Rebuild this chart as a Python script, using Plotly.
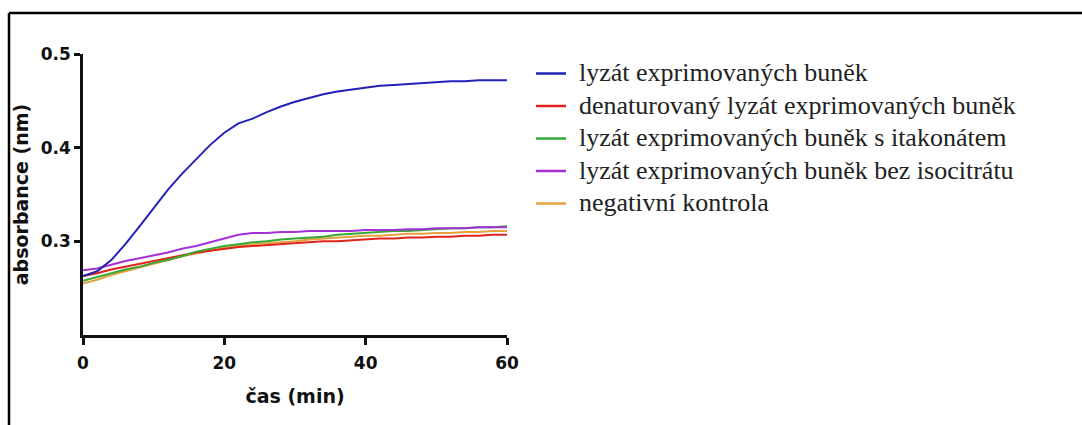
import plotly.graph_objects as go

# time points (min)
time_min = [0, 2, 4, 6, 8, 10, 12, 14, 16, 18, 20, 22, 24, 26, 28, 30,
            32, 34, 36, 38, 40, 42, 44, 46, 48, 50, 52, 54, 56, 58, 60]

lyzat = [0.263, 0.268, 0.280, 0.297, 0.316, 0.336, 0.355, 0.372, 0.388, 0.403,
         0.416, 0.426, 0.431, 0.438, 0.444, 0.449, 0.453, 0.457, 0.460, 0.462,
         0.464, 0.466, 0.467, 0.468, 0.469, 0.470, 0.471, 0.471, 0.472, 0.472, 0.472]
denaturovany = [0.263, 0.266, 0.270, 0.273, 0.276, 0.279, 0.282, 0.285, 0.288, 0.290,
                0.292, 0.294, 0.295, 0.296, 0.297, 0.298, 0.299, 0.300, 0.300, 0.301,
                0.302, 0.303, 0.303, 0.304, 0.304, 0.305, 0.305, 0.306, 0.306, 0.307, 0.307]
itakonat = [0.258, 0.262, 0.266, 0.270, 0.273, 0.277, 0.280, 0.284, 0.289, 0.292,
            0.295, 0.297, 0.299, 0.300, 0.302, 0.303, 0.304, 0.305, 0.307, 0.308,
            0.309, 0.310, 0.311, 0.311, 0.312, 0.313, 0.314, 0.314, 0.315, 0.315, 0.316]
bez_isocitratu = [0.269, 0.271, 0.275, 0.279, 0.282, 0.285, 0.288, 0.292, 0.295, 0.299,
                  0.303, 0.307, 0.309, 0.309, 0.310, 0.310, 0.311, 0.311, 0.311, 0.311,
                  0.312, 0.312, 0.312, 0.313, 0.313, 0.314, 0.314, 0.314, 0.315, 0.315, 0.315]
negativni = [0.255, 0.259, 0.264, 0.268, 0.272, 0.276, 0.280, 0.284, 0.287, 0.290,
             0.293, 0.295, 0.297, 0.298, 0.299, 0.300, 0.302, 0.303, 0.304, 0.305,
             0.306, 0.306, 0.307, 0.308, 0.308, 0.309, 0.309, 0.310, 0.310, 0.311, 0.311]

x_ticks = [0, 20, 40, 60]
y_ticks = [0.3, 0.4, 0.5]

# (name, values, colour, legend row); traces drawn bottom-up
series = [
    ("negativní kontrola", negativni, "#e6a23c", 5),
    ("denaturovaný lyzát exprimovaných buněk", denaturovany, "#e0231c", 2),
    ("lyzát exprimovaných buněk s itakonátem", itakonat, "#38a838", 3),
    ("lyzát exprimovaných buněk bez isocitrátu", bez_isocitratu, "#a430d8", 4),
    ("lyzát exprimovaných buněk", lyzat, "#2222b8", 1),
]

fig = go.Figure()
for name, vals, color, rank in series:
    fig.add_trace(go.Scatter(x=time_min, y=vals, mode="lines", name=name,
                             showlegend=False,
                             line=dict(color=color, width=2)))

L, R, T, B = 83, 575, 54, 90
W, H = 1082, 425
pw, ph = W - L - R, H - T - B

def px_x(x):
    return (x - L) / pw

def px_y(y):
    return (H - B - y) / ph

# frame lines along the top and left edges
shapes = [
    dict(type="line", xref="paper", yref="paper", x0=px_x(9), x1=px_x(W + 2),
         y0=px_y(13), y1=px_y(13), line=dict(color="#000", width=2.5)),
    dict(type="line", xref="paper", yref="paper", x0=px_x(9), x1=px_x(9),
         y0=px_y(13), y1=px_y(H + 2), line=dict(color="#000", width=2.5)),
]
# key to the right of the plot: short coloured line + serif label per series
annotations = []
row0, pitch = 73.5, 32.5
for name, vals, color, rank in series:
    yc = row0 + (rank - 1) * pitch
    shapes.append(dict(type="line", xref="paper", yref="paper",
                       x0=px_x(536), x1=px_x(566), y0=px_y(yc), y1=px_y(yc),
                       line=dict(color=color, width=2.5)))
    annotations.append(dict(xref="paper", yref="paper", x=px_x(577), y=px_y(yc - 1),
                            xanchor="left", yanchor="middle", showarrow=False,
                            text=name,
                            font=dict(family="Liberation Serif", size=26, color="#222")))

fig.update_layout(
    width=W, height=H,
    margin=dict(l=L, r=R, t=T, b=B),
    paper_bgcolor="white", plot_bgcolor="white",
    showlegend=False,
    xaxis=dict(range=[0, 60], tickvals=x_ticks, ticktext=[str(v) for v in x_ticks],
               showgrid=False, zeroline=False, showline=True, linecolor="#111",
               linewidth=2.5, ticks="outside", ticklen=7, tickwidth=2.5, tickcolor="#111",
               ticklabelstandoff=4,
               tickfont=dict(family="DejaVu Sans", size=17, color="#111", weight="bold"),
               title=dict(text="čas (min)", standoff=18,
                          font=dict(family="DejaVu Sans", size=19, color="#111", weight="bold"))),
    yaxis=dict(range=[0.2, 0.5], tickvals=y_ticks, ticktext=["0.3", "0.4", "0.5"],
               showgrid=False, zeroline=False, showline=True, linecolor="#111",
               linewidth=2.5, ticks="outside", ticklen=6, tickwidth=2.5, tickcolor="#111",
               tickfont=dict(family="DejaVu Sans", size=17, color="#111", weight="bold"),
               title=dict(text="absorbance (nm)", standoff=8,
                          font=dict(family="DejaVu Sans", size=19, color="#111", weight="bold"))),
    shapes=shapes,
    annotations=annotations,
)

fig.write_html("out.html")
